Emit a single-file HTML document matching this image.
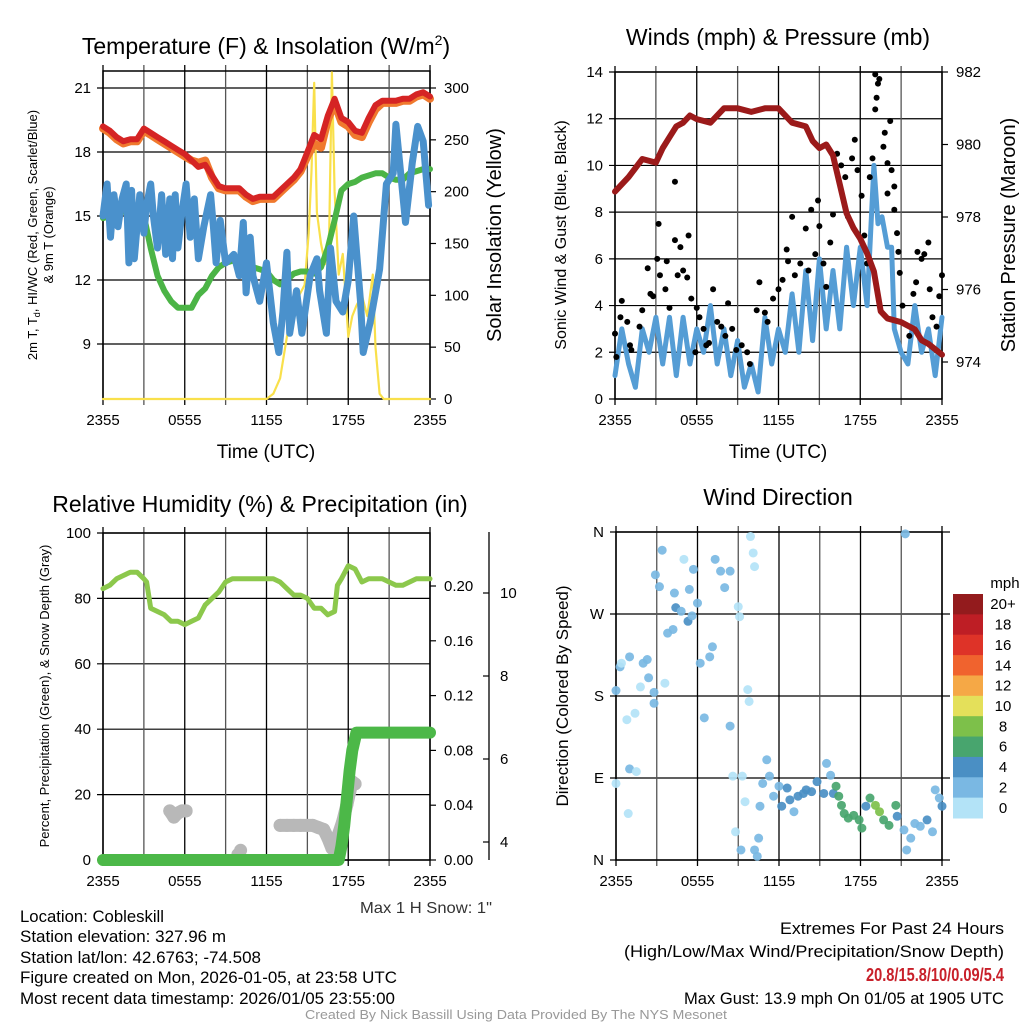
<!DOCTYPE html>
<html><head><meta charset="utf-8"><style>
html,body{margin:0;padding:0;background:#fff;}
svg{display:block;font-family:"Liberation Sans",sans-serif;}
</style></head><body>
<svg id="s" width="1024" height="1024" viewBox="0 0 1024 1024" xmlns="http://www.w3.org/2000/svg">
<g id="g1"></g>
<g id="g2"></g>
<g id="g3"></g>
<g id="g4"></g>
<g id="txt">
<text x="266" y="54" font-size="23" text-anchor="middle">Temperature (F) &amp; Insolation (W/m<tspan dy="-9" font-size="14">2</tspan><tspan dy="9">)</tspan></text>
<text x="778" y="45" font-size="23" text-anchor="middle">Winds (mph) &amp; Pressure (mb)</text>
<text x="260" y="512" font-size="23" text-anchor="middle">Relative Humidity (%) &amp; Precipitation (in)</text>
<text x="778" y="505" font-size="23" text-anchor="middle">Wind Direction</text>
<text x="266" y="458" font-size="19" text-anchor="middle">Time (UTC)</text>
<text x="778" y="458" font-size="19" text-anchor="middle">Time (UTC)</text>
<text transform="translate(37,235) rotate(-90)" font-size="13" text-anchor="middle">2m T, T<tspan font-size="9" dy="3">d</tspan><tspan dy="-3">, HI/WC (Red, Green, Scarlet/Blue)</tspan></text>
<text transform="translate(53,235) rotate(-90)" font-size="13" text-anchor="middle">&amp; 9m T (Orange)</text>
<text transform="translate(501,235) rotate(-90)" font-size="20" text-anchor="middle">Solar Insolation (Yellow)</text>
<text transform="translate(566,235) rotate(-90)" font-size="16" text-anchor="middle">Sonic Wind &amp; Gust (Blue, Black)</text>
<text transform="translate(1015,235) rotate(-90)" font-size="20" text-anchor="middle">Station Pressure (Maroon)</text>
<text transform="translate(49,696) rotate(-90)" font-size="13" text-anchor="middle">Percent, Precipitation (Green), &amp; Snow Depth (Gray)</text>
<text transform="translate(568,696) rotate(-90)" font-size="17" text-anchor="middle">Direction (Colored By Speed)</text>
<text x="360" y="913" font-size="16" textLength="132" lengthAdjust="spacingAndGlyphs" fill="#333">Max 1 H Snow: 1"</text>
<text x="20" y="922" font-size="16.5" textLength="144" lengthAdjust="spacingAndGlyphs">Location: Cobleskill</text>
<text x="20" y="942" font-size="16.5" textLength="206" lengthAdjust="spacingAndGlyphs">Station elevation: 327.96 m</text>
<text x="20" y="963" font-size="16.5" textLength="241" lengthAdjust="spacingAndGlyphs">Station lat/lon: 42.6763; -74.508</text>
<text x="20" y="983" font-size="16.5" textLength="377" lengthAdjust="spacingAndGlyphs">Figure created on Mon, 2026-01-05, at 23:58 UTC</text>
<text x="20" y="1004" font-size="16.5" textLength="375" lengthAdjust="spacingAndGlyphs">Most recent data timestamp: 2026/01/05 23:55:00</text>
<text x="780" y="934" font-size="16.5" textLength="224" lengthAdjust="spacingAndGlyphs">Extremes For Past 24 Hours</text>
<text x="624" y="957" font-size="16.5" textLength="380" lengthAdjust="spacingAndGlyphs">(High/Low/Max Wind/Precipitation/Snow Depth)</text>
<text x="866" y="981" font-size="18" textLength="138" lengthAdjust="spacingAndGlyphs" font-weight="bold" fill="#c8202a">20.8/15.8/10/0.09/5.4</text>
<text x="684" y="1004" font-size="16.5" textLength="320" lengthAdjust="spacingAndGlyphs">Max Gust: 13.9 mph On 01/05 at 1905 UTC</text>
<text x="305" y="1019" font-size="12.5" textLength="422" lengthAdjust="spacingAndGlyphs" fill="#999">Created By Nick Bassill Using Data Provided By The NYS Mesonet</text>
</g>
</svg>
<script>
// ---------- DATA ----------
const timeLabels = ["2355","0555","1155","1755","2355"];
const tempT = [0,0.5,1,1.5,2,2.5,3,3.5,4,4.5,5,5.5,6,6.5,7,7.5,8,8.5,9,9.5,10,10.5,11,11.5,12,12.5,13,13.5,14,14.5,15,15.5,16,16.5,17,17.5,18,18.5,19,19.5,20,20.5,21,21.5,22,22.5,23,23.5,24];
const tempRed = [19.2,19.0,18.7,18.5,18.6,18.6,19.1,18.9,18.7,18.5,18.3,18.1,17.9,17.6,17.3,17.4,16.9,16.4,16.3,16.3,16.3,16.0,15.8,15.9,15.9,15.9,16.2,16.5,16.8,17.2,18.0,18.8,18.6,19.7,20.5,19.6,19.4,19.0,18.9,19.6,20.2,20.4,20.4,20.4,20.5,20.5,20.7,20.8,20.6];
const temp9m = [19.1,18.9,18.6,18.4,18.5,18.5,19.0,18.8,18.6,18.4,18.2,18.0,17.8,17.6,17.5,17.6,16.8,16.3,16.2,16.2,16.2,15.9,15.7,15.8,15.8,15.8,16.1,16.4,16.7,17.1,17.8,18.4,18.2,19.5,20.3,19.4,19.2,18.8,18.7,19.4,20.0,20.3,20.3,20.3,20.4,20.4,20.6,20.7,20.5];
const dewT = tempT;
const dewVals = [14.9,15.0,15.1,15.2,15.3,15.4,15.0,13.5,12.2,11.5,11.0,10.7,10.7,10.7,11.3,11.6,12.2,12.6,12.8,12.9,12.9,12.7,12.6,12.5,12.4,12.0,11.8,12.0,12.3,12.4,12.4,12.3,12.6,13.5,14.8,16.2,16.5,16.6,16.8,16.9,17.0,17.0,16.8,16.7,16.7,17.0,17.1,17.2,17.2];
const wcT = [0,0.3,0.55,0.8,1.1,1.4,1.7,1.9,2.1,2.3,2.7,3.0,3.2,3.5,3.7,4.0,4.3,4.6,4.9,5.1,5.3,5.5,5.8,6.1,6.4,6.7,7.0,7.4,7.9,8.1,8.3,8.6,9.0,9.6,10.0,10.3,10.5,10.8,11.0,11.5,12.0,12.5,12.9,13.2,13.5,13.7,14.2,14.6,15.2,15.7,15.9,16.4,16.7,17.1,17.6,18.0,18.4,18.9,19.1,19.6,20.3,20.8,21.3,21.5,22.0,22.2,22.7,23.1,23.5,23.9];
const wcVals = [15.0,16.5,14.0,16.0,14.5,15.8,16.5,12.8,16.2,13.0,16.0,14.2,15.5,16.5,15.0,13.5,16.0,13.2,15.8,13.0,16.0,13.5,15.2,16.5,14.0,15.8,13.0,14.5,16.0,14.5,12.8,14.8,12.8,13.2,12.2,14.7,11.4,14.0,12.2,11.0,12.8,10.0,8.6,10.5,13.3,9.5,11.5,9.5,12.2,13.0,11.5,9.5,13.5,11.0,10.5,12.0,15.0,11.0,8.6,10.0,12.5,16.5,17.0,19.3,16.0,14.7,17.5,19.2,18.5,15.5];
const solarT = [0,12.0,12.5,13.0,13.5,14.0,14.4,14.8,15.1,15.3,15.5,15.7,16.0,16.3,16.6,16.8,17.0,17.3,17.6,18.0,18.3,18.6,19.0,19.4,19.8,20.0,20.3,20.6,24];
const solarVals = [0,0,5,20,60,90,100,110,160,220,305,180,150,130,160,315,200,120,140,60,80,90,100,80,120,50,5,0,0];
const presT = [0,1,2,3,3.5,4,4.5,5,5.5,6,7,8,9,10,11,12,13,14,14.5,15,15.5,16,16.5,17,17.5,18,18.5,19,19.5,20,21,22,22.5,23,24];
const presVals = [978.7,979.1,979.6,979.5,979.9,980.2,980.5,980.6,980.8,980.7,980.6,981.0,981.0,980.9,981.0,981.0,980.6,980.5,980.1,979.9,980.0,979.7,978.9,978.1,977.7,977.4,977.0,976.5,975.4,975.2,975.1,974.9,974.6,974.5,974.2];
const windT = [0,0.5,1,1.5,2,2.5,3,3.5,4,4.5,5,5.5,6,6.5,7,7.5,8,8.5,9,9.5,10,10.5,11,11.5,12,12.5,13,13.5,14,14.5,15,15.5,16,16.5,17,17.5,18,18.5,19,19.3,19.6,20,20.3,20.5,21,21.5,22,22.5,23,23.5,24];
const windVals = [1,3,1.5,0.5,3,2,3.5,1.5,3.5,1,3.5,1.5,3,2,4,1.5,3,1,2.5,0.5,1.5,0.3,3.5,1.5,3,2,4.5,2,5.5,2.5,6,3,5.5,3,6.5,4,6.5,4,10,7.5,7.8,6.5,6.5,3,2,1.5,4,2,3,1,3.5];
const gustT = [0,0.1,0.4,0.5,0.9,1.1,1.2,1.8,2,2.4,2.6,2.8,3.1,3.2,3.3,3.7,3.8,4,4.4,4.4,4.6,4.8,5,5.4,5.3,5.6,6,5.9,6.2,6.5,6.7,6.9,7.2,7.5,7.8,8.1,8.3,8.6,8.9,9.3,9.7,9.9,10.4,10.6,11,11.2,11.6,12,12.3,12.6,12.7,13,13.2,13.6,14,14.2,14.4,14.7,14.9,15,15.3,15.5,15.8,16,16.3,16.6,16.9,17.1,17.4,17.6,17.8,18.1,18.3,18.5,18.7,18.9,19.1,19.2,19.3,19.1,19.4,19.7,19.8,20.2,20,20.3,20,20.5,20.5,20.7,20.8,20.9,21.1,21.6,21.9,22.1,22.2,22.5,22.7,23,23.1,23.3,23.6,23.8,24];
const gustVals = [2.8,1.8,3.5,4.2,3.3,2.3,2.1,3.1,3.8,5.6,4.5,4.4,6,7.5,5.3,4.7,5.9,3.9,9.3,6.8,5.3,6.5,5.5,7,5.2,4.3,3.9,2,3.5,3,2.3,2.4,4.7,3.3,3.1,2.7,4.1,3,2.1,2.3,2,1.5,3.8,5,3.7,3.3,4.3,4.7,5.1,6.4,5.9,7.8,5.3,5.8,7.3,5.5,8.1,6.2,8.5,7.4,5.8,4.8,6.7,7.9,10.5,10,9.5,7.8,10.3,11.1,9.8,8.7,7,5.8,9.5,10.3,12.4,12.9,13.5,13.9,13.7,10.8,11.4,11.9,10.1,9.8,8.8,9.1,8.1,7.1,6.3,5.4,4,2.7,4.5,5,6.3,6,6.2,6.7,4.7,3.5,3.1,4.4,5.3];
const rhT = [0,0.5,1,1.5,2,2.5,3,3.2,3.5,4,4.5,5,5.5,6,6.5,7,7.5,8,8.5,9,9.5,10,11,12,12.5,13,13.5,14,14.5,15,15.5,16,16.5,17,17.2,17.5,18,18.5,19,19.5,20,20.5,21,21.5,22,22.5,23,23.5,24];
const rhVals = [83,84,86,87,88,88,86,85,77,76,75,73,73,72,73,74,78,80,82,85,86,86,86,86,86,85,83,81,81,80,77,77,75,76,84,86,90,89,85,86,86,86,85,84,84,85,86,86,86];
const precipT = [0,17.3,17.5,17.7,17.9,18.1,18.3,18.6,24];
const precipVals = [0,0,0.01,0.025,0.045,0.065,0.08,0.093,0.093];
const snowT = [4.9,5.2,5.5,5.8,6.1,9.9,10.1,13.0,13.5,14,14.5,15,15.4,15.8,16.2,16.5,16.8,17.0,17.3,17.6,17.9,18.1,18.3,18.5];
const snowVals = [4.75,4.6,4.7,4.75,4.75,3.7,3.8,4.4,4.4,4.4,4.4,4.4,4.4,4.35,4.3,4.1,3.85,3.8,4.2,4.5,4.9,5.2,5.45,5.4];
const dirT = [0,0,0.3,0.4,1,0.8,1.4,1,1.5,0.9,1.8,2,2.3,2.4,2.8,2.8,2.9,3.2,3.4,3.6,3.8,4.2,4.3,4.4,4.8,5,5.3,5.4,5.6,5.7,6,6.2,6.5,6.9,7.1,7.3,7.7,8,8.4,8.4,8.6,8.8,9,9.1,9.2,9.3,9.5,9.7,9.8,9.9,10.1,10.2,10.2,10.4,10.5,10.6,10.8,11.1,11.3,11.6,12,12.2,12.6,12.8,13.1,13.4,13.8,14,14.4,14.8,15.3,15.5,15.8,16,16.2,16.4,16.6,16.8,17.1,17.5,17.9,18.1,18.4,18.7,19.1,19.4,19.7,20.1,20.6,20.7,21.2,21.3,21.4,21.7,22,22.4,22.9,23.3,23.5,23.8,24];
const dirVals = [84,186,212,216,223,154,161,100,97,51,190,216,220,200,184,172,313,300,340,194,249,253,293,277,273,330,262,297,268,319,282,216,156,223,234,330,317,299,317,147,92,31,278,267,11,92,64,187,174,355,337,322,11,4,24,59,84,110,92,70,81,59,79,66,53,70,73,77,75,86,73,106,93,73,81,70,60,51,46,49,44,35,59,68,60,53,44,38,60,48,33,358,11,24,40,37,44,31,77,68,59];
const dirSpeed = [1,2,2,1,2,1,0.5,2,1,1,1,2,2,3,2,3,2,2,2,1,2,3,2,4,2,1,4,2,3,2,2,2,3,2,3,2,2,2,2,3,1,1,1,1,2,1,1,1,1,0.5,1,1,2,2,2,3,2,3,3,3,3,4,4,4,3,4,4,4,4,4,4,2,3,5,6,6,6,6,6,7,6,6,4,6,9,8,7,6,6,4,3,2,2,2,3,3,4,3,3,3,4];
const cbLabels = ["20+","18","16","14","12","10","8","6","4","2","0"];
const cbColors = ["#931b1d","#be1e25","#de3328","#f0632e","#f5a846","#e4e05a","#7dc04a","#48a56e","#4a8fc4","#7ab8e3","#b3e3f7"];

// ---------- HELPERS ----------
const NS="http://www.w3.org/2000/svg";
function mk(p,tag,at){const e=document.createElementNS(NS,tag);for(const k in at)e.setAttribute(k,at[k]);p.appendChild(e);return e;}
function lin(d0,d1,r0,r1){return v=>r0+(v-d0)*(r1-r0)/(d1-d0);}
function poly(g,ts,vs,X,Y,color,w,name){
  const pts=ts.map((t,i)=>X(t).toFixed(1)+","+Y(vs[i]).toFixed(1)).join(" ");
  const e=mk(g,"polyline",{points:pts,fill:"none",stroke:color,"stroke-width":w,"stroke-linejoin":"round","stroke-linecap":"round"});
  
  
  return e;
}
function frame(g,x0,x1,y0,y1){
  for(let i=0;i<=8;i++){const x=x0+(x1-x0)*i/8;
    const l=mk(g,"line",{x1:x,x2:x,y1:y0-6,y2:y1+6,stroke:i%2?"#555":"#000","stroke-width":1.3});
    
    }
  const r=mk(g,"rect",{x:x0,y:y0,width:x1-x0,height:y1-y0,fill:"none",stroke:"#000","stroke-width":1.5});
  
  
  timeLabels.forEach((s,i)=>{const t=mk(g,"text",{x:x0+(x1-x0)*i/4,y:y1+26,"font-size":15,"text-anchor":"middle"});t.textContent=s;
    
    });
}
function hgrid(g,x0,x1,y,label){
  const l=mk(g,"line",{x1:x0-6,x2:x1,y1:y,y2:y,stroke:"#000","stroke-width":1.2});
  
  
  if(label!==null){const t=mk(g,"text",{x:x0-12,y:y+5,"font-size":15,"text-anchor":"end"});t.textContent=label;
    
    }
}
function rtick(g,x,y,label,len,lx){
  const l=mk(g,"line",{x1:x,x2:x+len,y1:y,y2:y,stroke:"#000","stroke-width":1.2});
  
  
  if(label!==null){const t=mk(g,"text",{x:lx!==undefined?lx:x+len+8,y:y+5,"font-size":15});t.textContent=label;
    
    }
}

// ---------- PANEL 1 ----------
(function(){
  const g=document.getElementById("g1");
  const x0=103,x1=430,y0=71,y1=399;
  const X=lin(0,24,x0,x1), Y=lin(21,9,88,344), YS=lin(0,300,399,88);
  [21,18,15,12,9].forEach(v=>hgrid(g,x0,x1,Y(v),String(v)));
  [0,50,100,150,200,250,300].forEach(v=>rtick(g,x1,YS(v),String(v),6));
  frame(g,x0,x1,y0,y1);
  poly(g,solarT,solarVals,X,YS,"#f9e04b",2.2,"solar-line");
  poly(g,dewT,dewVals,X,Y,"#4bb446",6,"dewpoint-line");
  poly(g,wcT,wcVals,X,Y,"#4a91cc",7,"windchill-line");
  poly(g,tempT,temp9m,X,Y,"#f0792e",8,"temp-9m-line");
  poly(g,tempT,tempRed,X,Y,"#d52424",6,"temp-2m-line");
})();

// ---------- PANEL 2 ----------
(function(){
  const g=document.getElementById("g2");
  const x0=615,x1=942,y0=72,y1=399;
  const X=lin(0,24,x0,x1), Y=lin(0,14,399,72), YP=lin(974,982,362,72);
  [0,2,4,6,8,10,12,14].forEach(v=>hgrid(g,x0,x1,Y(v),String(v)));
  [974,976,978,980,982].forEach(v=>rtick(g,x1,YP(v),String(v),6));
  frame(g,x0,x1,y0,y1);
  poly(g,windT,windVals,X,Y,"#559dd5",5,"wind-speed-line");
  gustT.forEach((t,i)=>{const c=mk(g,"circle",{cx:X(t),cy:Y(gustVals[i]),r:3,fill:"#000"});
    
    });
  poly(g,presT,presVals,X,YP,"#9b1a1a",6,"pressure-line");
})();

// ---------- PANEL 3 ----------
(function(){
  const g=document.getElementById("g3");
  const x0=103,x1=430,y0=533,y1=860;
  const X=lin(0,24,x0,x1), Y=lin(0,100,860,533), YR=lin(0,0.2,860,586), YSn=lin(4,10,842,593);
  [0,20,40,60,80,100].forEach(v=>hgrid(g,x0,x1,Y(v),String(v)));
  [0,0.04,0.08,0.12,0.16,0.20].forEach(v=>rtick(g,x1,YR(v),v.toFixed(2),6));
  const ax=mk(g,"line",{x1:489,x2:489,y1:532,y2:860,stroke:"#000","stroke-width":1.3});
  
  
  [4,6,8,10].forEach(v=>rtick(g,489,YSn(v),String(v),-6,500));
  frame(g,x0,x1,y0,y1);
  snowT.forEach((t,i)=>{const c=mk(g,"circle",{cx:X(t),cy:YSn(snowVals[i]),r:6.5,fill:"#b8b8b8"});
    
    });
  poly(g,snowT.slice(0,5),snowVals.slice(0,5),X,YSn,"#b8b8b8",13,"snow-depth-line-a");
  poly(g,snowT.slice(7),snowVals.slice(7),X,YSn,"#b8b8b8",13,"snow-depth-line-b");
  poly(g,precipT,precipVals,X,YR,"#4cb848",12,"precip-line");
  poly(g,rhT,rhVals,X,Y,"#8cc84c",5,"humidity-line");
})();

// ---------- PANEL 4 ----------
(function(){
  const g=document.getElementById("g4");
  const x0=616,x1=942,y0=532,y1=860;
  const X=lin(0,24,x0,x1), Y=lin(0,360,860,532);
  const lbl=["N","E","S","W","N"];
  [0,90,180,270,360].forEach((v,i)=>hgrid(g,x0,x1+8,Y(v),lbl[i]));
  frame(g,x0,x1,y0,y1);
  dirT.forEach((t,i)=>{const s=dirSpeed[i];const b=Math.min(10,Math.floor(s/2));
    const c=mk(g,"circle",{cx:X(t),cy:Y(dirVals[i]),r:4.5,fill:cbColors[10-b],opacity:0.92});
    
    });
  const cb=mk(g,"g",{});
  
  
  const h=224/11;
  cbColors.forEach((col,i)=>{const r=mk(cb,"rect",{x:953,y:594+i*h,width:30,height:h+0.5,fill:col});
    
    
    const t=mk(cb,"text",{x:1003,y:594+i*h+h/2+5,"font-size":15,"text-anchor":"middle"});t.textContent=cbLabels[i];
    
    });
  const u=mk(cb,"text",{x:1005,y:588,"font-size":15,"text-anchor":"middle"});u.textContent="mph";
  
  
})();
</script>
</body></html>
